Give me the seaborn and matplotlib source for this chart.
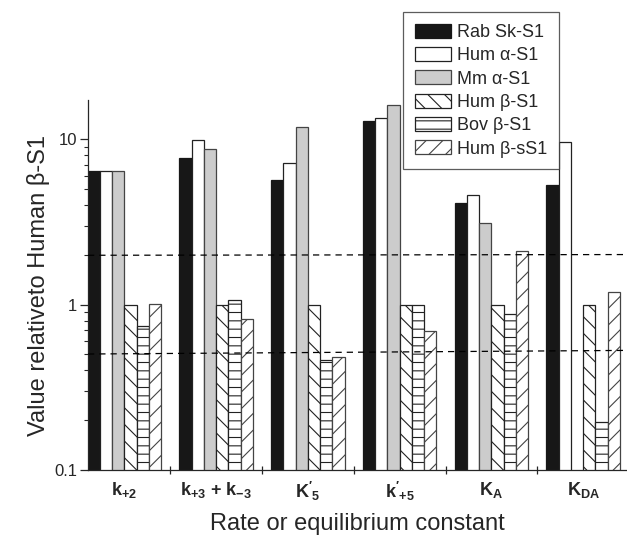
import matplotlib
matplotlib.use("Agg")
import matplotlib.pyplot as plt
import matplotlib.ticker as mticker
from matplotlib.patches import Patch
import seaborn as sns
import pandas as pd
import numpy as np

# categories on the x axis (mathtext for subscripts)
constants = [
    r"$\mathbf{k}_{\mathbf{+2}}$",
    r"$\mathbf{k}_{\mathbf{+3}}$ + $\mathbf{k}_{\mathbf{-3}}$",
    r"$\mathbf{K'}_{\mathbf{5}}$",
    r"$\mathbf{k'}_{\mathbf{+5}}$",
    r"$\mathbf{K}_{\mathbf{A}}$",
    r"$\mathbf{K}_{\mathbf{DA}}$",
]

# isoforms (legend order)
isoforms = ["Rab Sk-S1", "Hum α-S1", "Mm α-S1", "Hum β-S1", "Bov β-S1", "Hum β-sS1"]

# values relative to human beta-S1
rab_sk = [6.4, 7.75, 5.7, 12.9, 4.13, 5.26]
hum_alpha = [6.4, 9.85, 7.2, 13.4, 4.62, 9.63]
mm_alpha = [6.4, 8.8, 11.9, 16.1, 3.13, np.nan]
hum_beta = [1.0, 1.0, 1.0, 1.0, 1.0, 1.0]
bov_beta = [0.74, 1.06, 0.46, 1.0, 0.88, 0.195]
hum_beta_s = [1.01, 0.82, 0.48, 0.69, 2.12, 1.2]

# dashed reference levels (left end, right end)
upper_ref = [1.99, 2.01]
lower_ref = [0.503, 0.529]

series = [rab_sk, hum_alpha, mm_alpha, hum_beta, bov_beta, hum_beta_s]
rows = []
for name, vals in zip(isoforms, series):
    for const, v in zip(constants, vals):
        rows.append({"constant": const, "isoform": name, "value": v})
df = pd.DataFrame(rows)

sns.set_style("ticks")
plt.rcParams["font.family"] = ["Liberation Sans", "DejaVu Sans"]
plt.rcParams["mathtext.fontset"] = "custom"
plt.rcParams["mathtext.rm"] = "Liberation Sans"
plt.rcParams["mathtext.bf"] = "Liberation Sans:bold"
plt.rcParams["hatch.linewidth"] = 0.8

fig = plt.figure(figsize=(6.27, 5.38), dpi=100)
ax = fig.add_axes([88 / 627, 68 / 538, 539 / 627, 370 / 538])

face = ["#171717", "white", "#cccccc", "white", "white", "white"]
edge = ["#171717", "#222222", "#444444", "#222222", "#222222", "#444444"]
hatches = [None, None, None, "\\\\", "--", "//"]

sns.barplot(data=df, x="constant", y="value", hue="isoform", order=constants,
            hue_order=isoforms, width=0.8, ax=ax, legend=False,
            err_kws={"linewidth": 0})

for cont, fc, ec, h in zip(ax.containers, face, edge, hatches):
    for bar in cont:
        bar.set_facecolor(fc)
        bar.set_edgecolor(ec)
        bar.set_linewidth(0.9)
        if h:
            bar.set_hatch(h)

ax.set_yscale("log")
ax.set_ylim(0.1, 17.3)
ax.set_xlim(-0.397, 5.478)

# dashed reference lines
xl = ax.get_xlim()
ax.plot(xl, upper_ref, ls=(0, (5, 4)), color="black", lw=0.9, zorder=5, clip_on=False)
ax.plot(xl, lower_ref, ls=(0, (5, 4)), color="black", lw=0.9, zorder=5, clip_on=False)

ax.yaxis.set_major_locator(mticker.FixedLocator([0.1, 1, 10]))
ax.yaxis.set_major_formatter(mticker.FixedFormatter(["0.1", "1", "10"]))
ax.yaxis.set_minor_locator(mticker.LogLocator(base=10, subs=np.arange(2, 10)))
ax.yaxis.set_minor_formatter(mticker.NullFormatter())
ax.tick_params(axis="y", which="major", direction="out", length=6, width=0.9, labelsize=12, pad=2)
ax.tick_params(axis="y", which="minor", direction="out", length=2.8, width=0.8)

ax.set_xticks(np.arange(len(constants)))
ax.set_xticklabels(constants, fontweight="bold")
ax.set_xticks(np.arange(len(constants) - 1) + 0.5, minor=True)
ax.tick_params(axis="x", which="major", length=0, labelsize=13, pad=7)
ax.tick_params(axis="x", which="minor", direction="inout", length=6, width=0.9)

for s in ["top", "right"]:
    ax.spines[s].set_visible(False)
for s in ["left", "bottom"]:
    ax.spines[s].set_linewidth(0.9)

ax.set_xlabel("Rate or equilibrium constant", fontsize=17, labelpad=7)
ax.set_ylabel("Value relativeto Human β-S1", fontsize=17, labelpad=3)

# legend
handles = [Patch(facecolor=fc, edgecolor=ec, hatch=h, linewidth=0.9)
           for fc, ec, h in zip(face, edge, hatches)]
leg = fig.legend(handles, isoforms, loc="upper left", bbox_to_anchor=(403 / 627, 1 - 12 / 538),
                 borderaxespad=0, fontsize=13, frameon=True, fancybox=False,
                 edgecolor="#333333", handlelength=2.0, handleheight=0.8,
                 handletextpad=0.35, labelspacing=0.34, borderpad=0.65)
leg.get_frame().set_linewidth(0.9)

fig.savefig("out.png", dpi=100)
